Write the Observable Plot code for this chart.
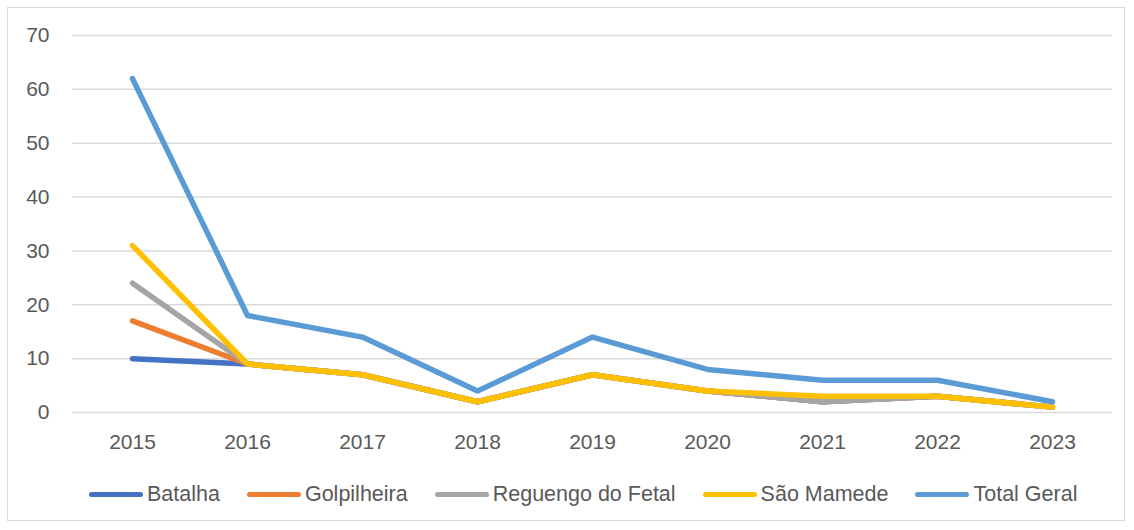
<!DOCTYPE html>
<html>
<head>
<meta charset="utf-8">
<script src="https://cdn.jsdelivr.net/npm/d3@7"></script>
<script src="https://cdn.jsdelivr.net/npm/@observablehq/plot@0.6"></script>
<style>
  html, body { margin: 0; padding: 0; background: #fff; }
  body { width: 1134px; height: 530px; position: relative; overflow: hidden; font-family: "Liberation Sans", Arial, sans-serif; }
  #frame { position: absolute; left: 7px; top: 7px; width: 1118px; height: 514px; border: 1px solid #d9d9d9; box-sizing: border-box; }
  #chart { position: absolute; left: 0; top: 0; }
  #legend { position: absolute; left: 89px; top: 482px; display: flex; align-items: center; font-size: 21.5px; color: #595959; white-space: nowrap; }
  .item { display: flex; align-items: center; margin-right: 27px; }
  .sw { width: 54px; height: 5px; border-radius: 3px; margin-right: 4px; }
</style>
</head>
<body>
<div id="frame"></div>
<div id="chart"></div>
<div id="legend"></div>
<script>
const years = ["2015","2016","2017","2018","2019","2020","2021","2022","2023"];
const seriesNames = ["Batalha","Golpilheira","Reguengo do Fetal","São Mamede","Total Geral"];
const seriesColors = ["#4472C4","#ED7D31","#A5A5A5","#FFC000","#5B9BD5"];
const batalha     = [10, 9, 7, 2, 7, 4, 2, 3, 1];
const golpilheira = [17, 9, 7, 2, 7, 4, 2, 3, 1];
const reguengo    = [24, 9, 7, 2, 7, 4, 2, 3, 1];
const saoMamede   = [31, 9, 7, 2, 7, 4, 3, 3, 1];
const totalGeral  = [62, 18, 14, 4, 14, 8, 6, 6, 2];
const yTicks = [0,10,20,30,40,50,60,70];

const allSeries = [batalha, golpilheira, reguengo, saoMamede, totalGeral];
const data = [];
seriesNames.forEach((name, i) => {
  years.forEach((yr, j) => data.push({series: name, year: yr, value: allSeries[i][j]}));
});

const plot = Plot.plot({
  width: 1134,
  height: 460,
  marginLeft: 72,
  marginRight: 22,
  marginTop: 35,
  marginBottom: 48,
  style: { fontFamily: '"Liberation Sans", Arial, sans-serif', fontSize: "21px", color: "#595959", background: "transparent" },
  x: { type: "point", domain: years, padding: 0.5, label: null },
  y: { domain: [0, 70], label: null },
  color: { domain: seriesNames, range: seriesColors },
  marks: [
    Plot.gridY(yTicks, { stroke: "#d9d9d9", strokeOpacity: 1, strokeWidth: 1.5 }),
    Plot.axisY(yTicks, { tickSize: 0, tickPadding: 23, fill: "#595959", fontSize: 21 }),
    Plot.axisX({ tickSize: 0, tickPadding: 22, fill: "#595959", fontSize: 21 }),
    Plot.line(data, { x: "year", y: "value", z: "series", stroke: "series", strokeWidth: 5.5, strokeLinecap: "round", strokeLinejoin: "round" })
  ]
});
document.getElementById("chart").appendChild(plot);

const legend = document.getElementById("legend");
seriesNames.forEach((name, i) => {
  const it = document.createElement("div");
  it.className = "item";
  const sw = document.createElement("div");
  sw.className = "sw";
  sw.style.background = seriesColors[i];
  const tx = document.createElement("span");
  tx.textContent = name;
  it.appendChild(sw); it.appendChild(tx);
  legend.appendChild(it);
});
</script>
</body>
</html>
